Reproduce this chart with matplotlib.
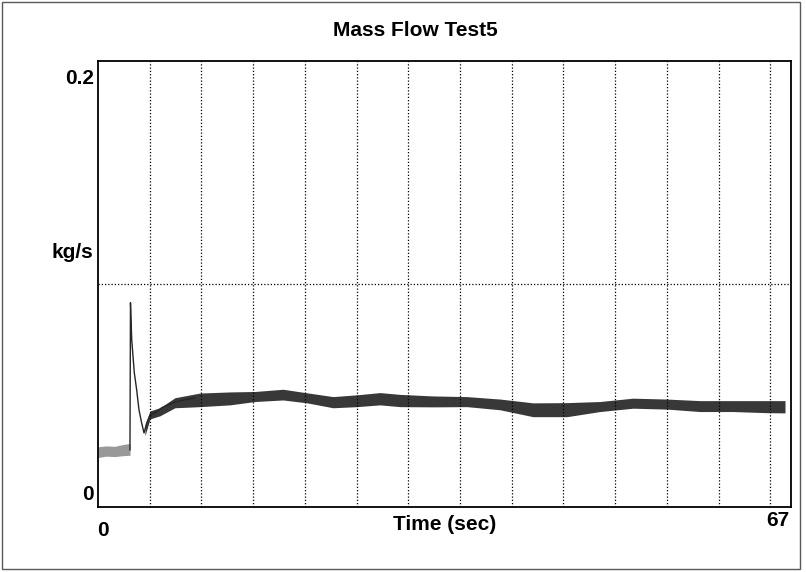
import matplotlib.pyplot as plt
import numpy as np

# start-up segment (faint, noisy) before the valve opens
start_t = [0.0, 0.8, 1.6, 2.4, 3.1]
start_lo = [0.0222, 0.0228, 0.0226, 0.0230, 0.0232]
start_hi = [0.0270, 0.0274, 0.0272, 0.0280, 0.0285]

# spike and recovery, read as a single trace
spike_t = [3.09, 3.14, 3.26, 3.51, 3.74, 3.96, 4.22, 4.45, 4.71, 5.03, 5.51,
           6.16, 6.80, 7.44, 8.41, 9.38]
spike_v = [0.0256, 0.0916, 0.0750, 0.0602, 0.0525, 0.0436, 0.0377, 0.0332,
           0.0377, 0.0413, 0.0422, 0.0445, 0.0458, 0.0471, 0.0481, 0.0490]

# steady band: lower / upper envelope of the noisy record
band_t = [4.54, 5.03, 5.99, 7.44, 9.86, 12.76, 15.18, 17.89, 20.21, 22.72,
          25.04, 27.26, 29.20, 32.39, 35.68, 38.87, 42.06, 45.34, 48.53,
          51.72, 55.01, 58.20, 61.39, 64.68, 66.42]
band_lo = [0.0319, 0.0395, 0.0409, 0.0445, 0.0450, 0.0458, 0.0473, 0.0480,
           0.0467, 0.0445, 0.0450, 0.0458, 0.0450, 0.0449, 0.0450, 0.0436,
           0.0405, 0.0405, 0.0428, 0.0443, 0.0439, 0.0428, 0.0428, 0.0423,
           0.0422]
band_hi = [0.0364, 0.0431, 0.0445, 0.0490, 0.0511, 0.0516, 0.0518, 0.0528,
           0.0512, 0.0495, 0.0503, 0.0513, 0.0505, 0.0498, 0.0495, 0.0484,
           0.0467, 0.0468, 0.0473, 0.0488, 0.0484, 0.0477, 0.0477, 0.0477,
           0.0477]

grid_x = [5, 10, 15, 20, 25, 30, 35, 40, 45, 50, 55, 60, 65]
grid_y = [0.1]

W, H = 806, 572
plt.rcParams['font.family'] = ['Liberation Sans', 'DejaVu Sans']
fig = plt.figure(figsize=(W / 100, H / 100), dpi=100)
ax = fig.add_axes([98 / W, 1 - 507 / H, 693 / W, 446 / H])

ax.fill_between(start_t, start_lo, start_hi, color='0.6', lw=0)
ax.plot(spike_t, spike_v, color='0.15', lw=1.0)
ax.fill_between(band_t, band_lo, band_hi, color='0.22', lw=0)

for gx in grid_x:
    ax.axvline(gx, color='black', lw=0.9, ls=(0, (1, 1.6)))
for gy in grid_y:
    ax.axhline(gy, color='black', lw=0.9, ls=(0, (1, 1.6)))

ax.set_xlim(0, 67)
ax.set_ylim(0, 0.2)
ax.set_xticks([])
ax.set_yticks([])
for s in ax.spines.values():
    s.set_linewidth(1.3)


def px(x, y, s, **kw):
    fig.text(x / W, 1 - y / H, s, fontsize=15, fontweight='bold', **kw)


px(415, 30, 'Mass Flow Test5', ha='center', va='center')
px(94, 78, '0.2', ha='right', va='center')
px(93, 253, 'kg/s', ha='right', va='center')
px(94, 494, '0', ha='right', va='center')
px(97, 530, '0', ha='left', va='center')
px(445, 524, 'Time (sec)', ha='center', va='center')
px(789, 521, '67', ha='right', va='center')

# scanned page frame
frame = plt.Rectangle((2 / W, 1 - 569 / H), 798 / W, 567 / H,
                      transform=fig.transFigure, fill=False,
                      edgecolor='0.35', lw=1.0)
fig.patches.append(frame)

fig.savefig('out.png', dpi=100)
